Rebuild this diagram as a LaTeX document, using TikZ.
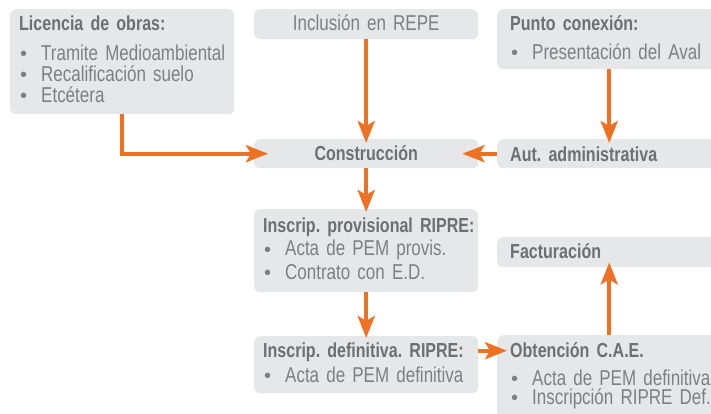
\documentclass[tikz,border=0pt]{standalone}
\usepackage{fontspec}
\setmainfont{Liberation Sans}[FakeStretch=0.79]
\newfontfamily\balafont{Liberation Sans}
\usetikzlibrary{arrows.meta}
\definecolor{cajagris}{RGB}{230,231,232}
\definecolor{textogris}{RGB}{125,127,130}
\definecolor{titgris}{RGB}{110,111,114}
\definecolor{naranja}{RGB}{238,112,35}
\newcommand{\bala}[1]{\mbox{\makebox[22pt][l]{\hspace{1pt}\raisebox{-0.5pt}{\balafont\fontsize{20}{0}\selectfont\textbullet}}#1}}
\newcommand{\tit}[1]{\mbox{\color{titgris}\bfseries\fontsize{20.3}{21}\selectfont #1}}
\begin{document}
\begin{tikzpicture}[x=1pt,y=-1pt]
  \tikzset{caja/.style 2 args={rectangle,rounded corners=6pt,fill=cajagris,anchor=north west,
      text=textogris,font=\fontsize{21.5}{21}\selectfont\frenchspacing,align=left,
      text width=206pt,inner xsep=9pt,inner ysep=0pt,text height=#1,text depth=#2},
    cajad/.style 2 args={caja={#1}{#2},text width=198pt,inner xsep=13pt},
    flecha/.style={draw=naranja,line width=4pt,-{Stealth[length=22pt,width=17pt,inset=5pt]}}}
  \useasboundingbox (0,0) rectangle (711,413);
  % columna izquierda
  \node[caja={21pt}{84pt}] (lic) at (10,9) {\tit{Licencia de obras:}\\[9pt]
    \bala{Tramite Medioambiental}\\ \bala{Recalificación suelo}\\ \bala{Etcétera}};
  \node[caja={21pt}{9pt},align=center] (repe) at (254,9) {Inclusión en REPE};
  \node[caja={21pt}{8pt},align=center] (cons) at (254,139) {\tit{Construcción}};
  \node[caja={23pt}{60pt}] (prov) at (254,209) {\tit{Inscrip. provisional RIPRE:}\\[2.5pt]
    \bala{Acta de PEM provis.}\\[2.5pt] \bala{Contrato con E.D.}};
  \node[caja={21pt}{36pt}] (def) at (254,336) {\tit{Inscrip. definitiva. RIPRE:}\\[4pt]
    \bala{Acta de PEM definitiva}};
  % columna derecha
  \node[cajad={21pt}{39pt}] (punto) at (497,9) {\tit{Punto conexión:}\\[8pt]
    \bala{Presentación del Aval}};
  \node[cajad={22pt}{7pt}] (aut) at (497,139) {\tit{Aut. administrativa}};
  \node[cajad={21pt}{9pt}] (fact) at (497,237) {\tit{Facturación}};
  \node[cajad={22pt}{68pt}] (obt) at (497,335) {\tit{Obtención C.A.E.}\\[7pt]
    \bala{Acta de PEM definitiva}\\[-2pt] \bala{Inscripción RIPRE Def.}};
  % flechas
  \draw[flecha,shorten >=-14pt] (lic.south) |- (cons.west);
  \draw[flecha,shorten >=-4pt] (repe) -- (cons);
  \draw[flecha,shorten >=-4pt] (punto) -- (aut);
  \draw[flecha,shorten >=-16pt] (aut.west) -- (cons.east);
  \draw[flecha,shorten >=-3pt] (cons) -- (prov);
  \draw[flecha,shorten >=-2pt] (prov) -- (def);
  \draw[flecha,shorten >=-10pt] ([yshift=14pt]def.east) -- ([yshift=14pt]def.east -| obt.west);
  \draw[flecha,shorten >=-5pt] (obt) -- (fact);
\end{tikzpicture}
\end{document}
